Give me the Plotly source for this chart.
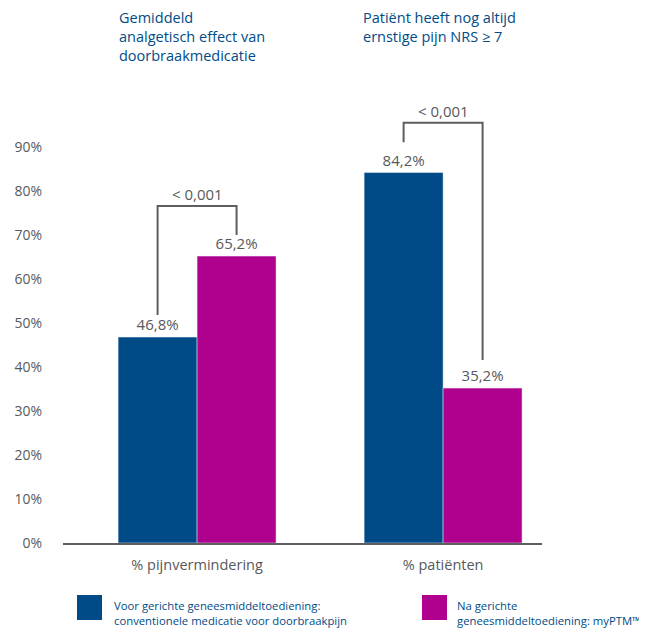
import plotly.graph_objects as go

categories = ["% pijnvermindering", "% patiënten"]
series_names = [
    "Voor gerichte geneesmiddeltoediening:<br>conventionele medicatie voor doorbraakpijn",
    "Na gerichte<br>geneesmiddeltoediening: myPTM™",
]
before_values = [46.8, 84.2]
after_values = [65.2, 35.2]
before_labels = ["46,8%", "84,2%"]
after_labels = ["65,2%", "35,2%"]
y_tick_vals = [0, 10, 20, 30, 40, 50, 60, 70, 80, 90]
y_tick_text = ["0%", "10%", "20%", "30%", "40%", "50%", "60%", "70%", "80%", "90%"]
p_labels = ["< 0,001", "< 0,001"]
bracket_left_start = [51.8, 91.1]
bracket_top = [76.6, 95.5]
bracket_right_end = [70.0, 41.6]
group_titles = [
    "Gemiddeld<br>analgetisch effect van<br>doorbraakmedicatie",
    "Patiënt heeft nog altijd<br>ernstige pijn NRS ≥ 7",
]

BLUE = "#004b87"
MAGENTA = "#b0008e"
GRAY = "#5d5e60"
TEXT_GRAY = "#58595b"
FONT = "Open Sans"

# page body has an 8px margin; figure is placed at (8, 8)
OFF = 8
W, H = 647 - OFF, 630 - OFF
L, R, T, B = 63 - OFF, 105, 103 - OFF, 87
pw = W - L - R
ph = H - T - B
AXIS_Y = 543


def px_x(px):
    return (px - OFF - L) / pw


def px_y(py):
    return (AXIS_Y - py) / ph


fig = go.Figure()
fig.add_trace(go.Bar(
    x=categories, y=before_values, name=series_names[0],
    marker_color=BLUE, text=before_labels, textposition="outside",
    textfont=dict(color=TEXT_GRAY, size=15, family=FONT), cliponaxis=False,
    showlegend=False,
))
fig.add_trace(go.Bar(
    x=categories, y=after_values, name=series_names[1],
    marker_color=MAGENTA, text=after_labels, textposition="outside",
    textfont=dict(color=TEXT_GRAY, size=15, family=FONT), cliponaxis=False,
    showlegend=False,
))

bargap = 0.358
off = (1 - bargap) / 4

shapes = []
annotations = []
for i in range(len(categories)):
    xl = i - off
    xr = i + off
    shapes.append(dict(
        type="path", xref="x", yref="y",
        path=f"M {xl} {bracket_left_start[i]} L {xl} {bracket_top[i]} L {xr} {bracket_top[i]} L {xr} {bracket_right_end[i]}",
        line=dict(color=GRAY, width=2),
    ))
    annotations.append(dict(
        x=i, y=bracket_top[i], xref="x", yref="y", text=p_labels[i],
        showarrow=False, yanchor="middle", yshift=12,
        font=dict(color=TEXT_GRAY, size=15, family=FONT),
    ))

# group titles
title_px = [117, 361]
for i, t in enumerate(group_titles):
    annotations.append(dict(
        x=px_x(title_px[i]), y=px_y(6), xref="paper", yref="paper",
        text=t, showarrow=False, xanchor="left", yanchor="top", align="left",
        font=dict(color=BLUE, size=14.5, family=FONT),
    ))

# legend
leg_sq_x = [77, 422]
leg_txt_x = [112, 455]
leg_colors = [BLUE, MAGENTA]
for i in range(2):
    shapes.append(dict(
        type="rect", xref="paper", yref="paper",
        x0=px_x(leg_sq_x[i]), x1=px_x(leg_sq_x[i] + 25),
        y0=px_y(620), y1=px_y(595),
        fillcolor=leg_colors[i], line=dict(width=0),
    ))
    annotations.append(dict(
        x=px_x(leg_txt_x[i]), y=px_y(596), xref="paper", yref="paper",
        text=series_names[i], showarrow=False, xanchor="left", yanchor="top",
        align="left", font=dict(color=BLUE, size=11.3, family=FONT),
    ))

fig.update_layout(
    width=W, height=H,
    margin=dict(l=L, r=R, t=T, b=B, pad=0),
    paper_bgcolor="white", plot_bgcolor="white",
    barmode="group", bargap=bargap, bargroupgap=0,
    font=dict(family=FONT, color=TEXT_GRAY),
    shapes=shapes, annotations=annotations,
    showlegend=False,
)
fig.update_xaxes(
    range=[-0.545, 1.402], showline=True, linecolor=GRAY, linewidth=2,
    showgrid=False, zeroline=False, ticks="", automargin=False,
    tickfont=dict(size=14.5, color=TEXT_GRAY, family=FONT),
    ticklabelstandoff=8, fixedrange=True,
)
fig.update_yaxes(
    range=[0, 100], tickvals=y_tick_vals, ticktext=y_tick_text,
    showgrid=False, zeroline=False, showline=False, ticks="", automargin=False,
    tickfont=dict(size=14, color=TEXT_GRAY, family=FONT),
    ticklabelstandoff=20, fixedrange=True,
)

fig.write_html("out.html")
